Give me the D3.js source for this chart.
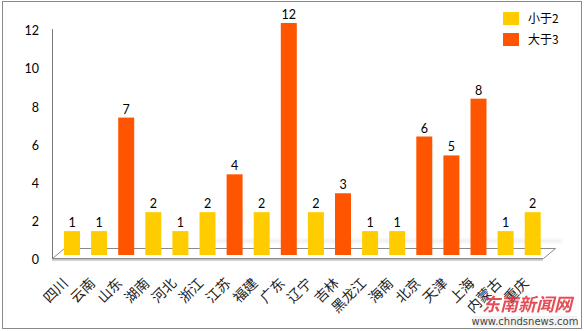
<!DOCTYPE html>
<html><head><meta charset="utf-8">
<script src="https://cdn.jsdelivr.net/npm/d3@7"></script>
<style>body{margin:0;background:#fff}svg{display:block}</style>
</head><body>
<script>
const categories = ["四川","云南","山东","湖南","河北","浙江","江苏","福建","广东","辽宁","吉林","黑龙江","海南","北京","天津","上海","内蒙古","重庆"];
const values = [1,1,7,2,1,2,4,2,12,2,3,1,1,6,5,8,1,2];
const yTicks = [0,2,4,6,8,10,12];
const legendLabels = ["小于2","大于3"];
const colors = ["#FFCC00","#FF5500"];

const W=584,H=331;
const svg=d3.select("body").append("svg").attr("width",W).attr("height",H);
const defs=svg.append("defs");
defs.append("filter").attr("id","blur").append("feGaussianBlur").attr("stdDeviation",1.5);

svg.append("rect").attr("x",2.5).attr("y",1.5).attr("width",579).attr("height",327)
  .attr("fill","#fff").attr("stroke","#8a8a8a");

const x=d3.scaleBand().domain(categories).range([58.45,546.25]).paddingInner(0.41).paddingOuter(0.205);
const yBar=d3.scaleLinear().domain([0,12]).range([250,23]);
const yAx=d3.scaleLinear().domain([0,12]).range([259.5,31]);

// soft shadow band
svg.append("rect").attr("x",200).attr("y",239).attr("width",362).attr("height",4)
  .attr("fill","#e6e8ee").attr("opacity",0.7).attr("filter","url(#blur)");

// floor
svg.append("line").attr("x1",52).attr("x2",543).attr("y1",259.8).attr("y2",259.8)
  .attr("stroke","#c4c4c4").attr("stroke-width",2);
svg.append("polygon").attr("points","52.5,258.5 64.5,248.5 555.5,248.5 543.5,258.5")
  .attr("fill","#fff").attr("stroke","#8a8a8a").attr("stroke-width",1);

// y axis
svg.append("line").attr("x1",52.5).attr("x2",52.5).attr("y1",29).attr("y2",258.5)
  .attr("stroke","#777").attr("stroke-width",1);
svg.append("g").selectAll("text").data(yTicks).join("text")
  .attr("x",39).attr("y",d=>yAx(d)).attr("dy","0.35em").attr("text-anchor","end")
  .attr("font-family","Lato, 'Open Sans', sans-serif").attr("font-size",12.5).attr("fill","#000")
  .text(d=>d);

// bars
const col=v=>v<=2?colors[0]:colors[1];
svg.append("g").selectAll("rect").data(values).join("rect")
  .attr("x",(d,i)=>x(categories[i])).attr("width",x.bandwidth())
  .attr("y",d=>yBar(d)).attr("height",d=>255-yBar(d)).attr("fill",col);
svg.append("g").selectAll("text").data(values).join("text")
  .attr("x",(d,i)=>x(categories[i])+x.bandwidth()/2).attr("y",d=>yBar(d)-4)
  .attr("text-anchor","middle").attr("font-family","Lato, 'Open Sans', sans-serif")
  .attr("font-size",12.5).attr("fill","#000").text(d=>d);

// x labels
svg.append("g").selectAll("text").data(categories).join("text")
  .attr("transform",d=>`translate(${x(d)+x.bandwidth()/2-3},${284}) rotate(-45)`)
  .attr("text-anchor","end").attr("font-family","'Noto Sans CJK SC', sans-serif")
  .attr("font-size",14).attr("fill","#222").text(d=>d);

// legend
const lg=svg.append("g");
lg.selectAll("rect").data(legendLabels).join("rect")
  .attr("x",503).attr("y",(d,i)=>12+i*21).attr("width",16).attr("height",13)
  .attr("fill",(d,i)=>colors[i]);
lg.selectAll("text").data(legendLabels).join("text")
  .attr("x",528).attr("y",(d,i)=>18.5+i*21).attr("dy","0.35em")
  .attr("font-family","'Noto Sans CJK SC', sans-serif").attr("font-size",12).attr("fill","#000")
  .text(d=>d);

// watermark
svg.append("text").attr("x",527).attr("y",311).attr("text-anchor","middle")
  .attr("font-family","'Noto Sans CJK SC', sans-serif").attr("font-size",18).attr("font-weight","bold")
  .attr("font-style","italic").attr("fill","#e0303a").attr("opacity",0.85).text("东南新闻网");
svg.append("rect").attr("x",473).attr("y",316).attr("width",104).attr("height",11).attr("fill","#f2f2f2").attr("opacity",0.9);
svg.append("text").attr("x",525).attr("y",325).attr("text-anchor","middle")
  .attr("font-family","'DejaVu Sans', sans-serif").attr("font-size",10).attr("fill","#444")
  .text("www.chndsnews.com");
</script>
</body></html>
